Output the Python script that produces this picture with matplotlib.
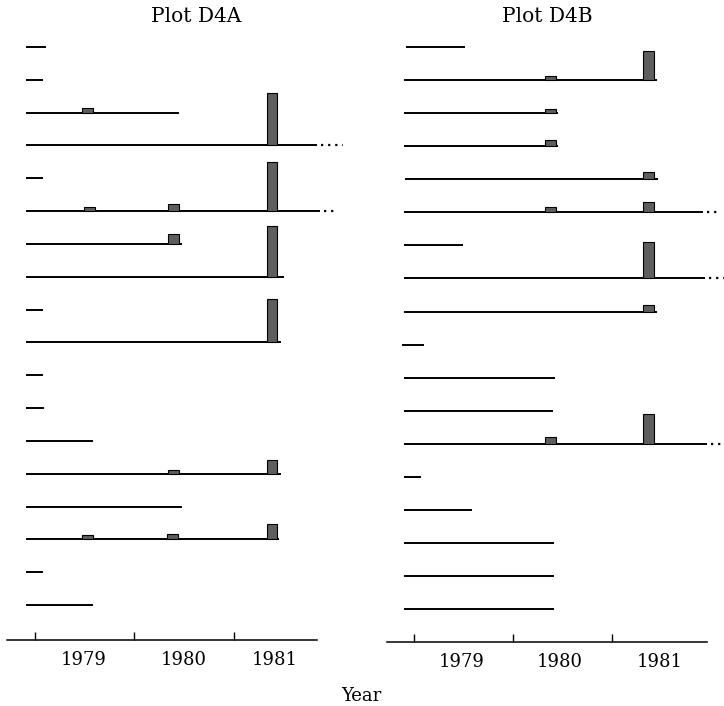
import matplotlib
matplotlib.use("Agg")
import matplotlib.pyplot as plt

# ---------------------------------------------------------------------
# Data: one lifeline per plant, top row first (years)
# ---------------------------------------------------------------------
YEARS = [1979, 1980, 1981]

# Plot D4A
A_START = [1978.91] * 18
A_END = [1979.11, 1979.08, 1980.45, 1981.83, 1979.08, 1981.86, 1980.48, 1981.50, 1979.08,
         1981.47, 1979.08, 1979.09, 1979.58, 1981.47, 1980.48, 1981.45, 1979.08, 1979.58]
# rows that continue past the end of the study (row index -> dotted end)
A_CONT = {3: 1982.10, 5: 1982.05}
# bars: (row index, year position, height in px-units of the original scale)
A_BARS_ROW = [2, 3, 5, 5, 5, 6, 7, 9, 13, 13, 15, 15, 15]
A_BARS_X = [1979.53, 1981.38, 1979.55, 1980.39, 1981.38, 1980.39, 1981.38, 1981.38,
            1980.39, 1981.38, 1979.53, 1980.38, 1981.38]
A_BARS_H = [5, 53, 4, 7, 49, 10, 51, 44, 4, 14, 4, 5, 15]

# Plot D4B
B_START = [1978.92, 1978.90, 1978.90, 1978.90, 1978.91, 1978.90, 1978.90, 1978.90, 1978.90,
           1978.88, 1978.90, 1978.90, 1978.90, 1978.90, 1978.90, 1978.90, 1978.90, 1978.90]
B_END = [1979.52, 1981.45, 1980.45, 1980.45, 1981.46, 1981.92, 1979.49, 1981.94, 1981.45,
         1979.10, 1980.42, 1980.40, 1981.96, 1979.07, 1979.59, 1980.41, 1980.41, 1980.41]
B_CONT = {5: 1982.09, 7: 1982.13, 12: 1982.11}
B_BARS_ROW = [1, 1, 2, 3, 4, 5, 5, 7, 8, 12, 12]
B_BARS_X = [1980.38, 1981.37, 1980.38, 1980.38, 1981.37, 1980.38, 1981.37, 1981.37,
            1981.37, 1980.38, 1981.37]
B_BARS_H = [4, 29, 4, 6, 7, 5, 10, 36, 6, 7, 30]

ROW_PX = 33.0
W, H = 724, 706
SERIF = "DejaVu Serif"


def draw_panel(ax, start, end, cont, brow, bx, bh, xlim, ylim, label_x):
    n = len(start)
    for i, (s, e) in enumerate(zip(start, end)):
        y = n - i
        ax.plot([s, e], [y, y], color="black", lw=1.4, solid_capstyle="butt",
                clip_on=False)
        if i in cont:
            ax.plot([e + 0.04, cont[i]], [y, y], color="black", lw=1.6,
                    linestyle=(0, (1, 2.2)), clip_on=False)
    for r, x, h in zip(brow, bx, bh):
        ax.bar(x, h / ROW_PX, width=0.105, bottom=n - r, color="#5e5e5e",
               edgecolor="black", linewidth=0.8, clip_on=False, zorder=3)

    ax.set_xlim(*xlim)
    ax.set_ylim(*ylim)
    for side in ["left", "right", "top"]:
        ax.spines[side].set_visible(False)
    ax.spines["bottom"].set_linewidth(1.1)
    ax.set_yticks([])
    ax.set_xticks(YEARS)
    ax.set_xticklabels([])
    ax.tick_params(axis="x", which="major", direction="in", length=6, width=1.0)
    ax.set_xticks(label_x, minor=True)
    ax.set_xticklabels([str(y) for y in YEARS], minor=True, fontfamily=SERIF,
                       fontsize=13)
    ax.tick_params(axis="x", which="minor", length=0, pad=8)


fig = plt.figure(figsize=(W / 100, H / 100), dpi=100)

ax_a = fig.add_axes([7 / W, 1 - 640 / H, 310 / W, (640 - 14) / H])
draw_panel(ax_a, A_START, A_END, A_CONT, A_BARS_ROW, A_BARS_X, A_BARS_H,
           xlim=(1978.719, 1981.834), ylim=(-0.067, 19.006),
           label_x=[1979.49, 1980.5, 1981.41])

ax_b = fig.add_axes([387 / W, 1 - 642 / H, 320 / W, (642 - 14) / H])
draw_panel(ax_b, B_START, B_END, B_CONT, B_BARS_ROW, B_BARS_X, B_BARS_H,
           xlim=(1978.727, 1981.960), ylim=(0.002, 19.0),
           label_x=[1979.485, 1980.475, 1981.485])

fig.text(196 / W, 1 - 16 / H, "Plot D4A", ha="center", va="center",
         fontfamily=SERIF, fontsize=14.5)
fig.text(547 / W, 1 - 16 / H, "Plot D4B", ha="center", va="center",
         fontfamily=SERIF, fontsize=14.5)
fig.text(361 / W, 1 - 696 / H, "Year", ha="center", va="center",
         fontfamily=SERIF, fontsize=13)

fig.savefig("out.png", dpi=100)
